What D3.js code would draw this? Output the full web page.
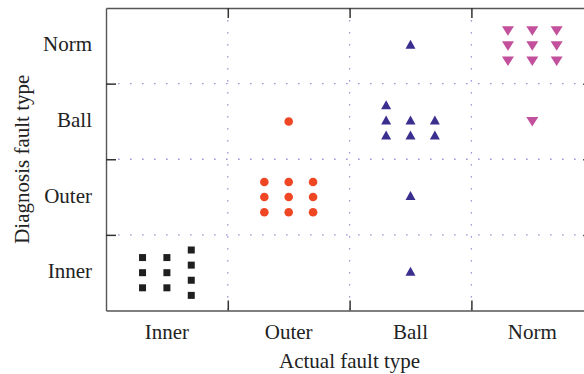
<!DOCTYPE html>
<html>
<head>
<meta charset="utf-8">
<script src="https://cdn.jsdelivr.net/npm/d3@7"></script>
<style>
  body { margin: 0; background: #fff; }
  text { font-family: "Liberation Serif", "DejaVu Serif", serif; fill: #222; }
</style>
</head>
<body>
<svg id="chart" width="584" height="374"></svg>
<script>
var categories = ["Inner", "Outer", "Ball", "Norm"];

// x = actual fault type, y = diagnosed fault type (1..4), samples spread inside each cell
var innerX = [0.8, 0.8, 0.8, 1.0, 1.0, 1.0, 1.2, 1.2, 1.2, 1.2];
var innerY = [1.2, 1.0, 0.8, 1.2, 1.0, 0.8, 1.3, 1.1, 0.9, 0.7];

var outerX = [1.8, 1.8, 1.8, 2.0, 2.0, 2.0, 2.2, 2.2, 2.2, 2.0];
var outerY = [2.2, 2.0, 1.8, 2.2, 2.0, 1.8, 2.2, 2.0, 1.8, 3.0];

var ballX = [2.8, 2.8, 2.8, 3.0, 3.0, 3.2, 3.2, 3.0, 3.0, 3.0];
var ballY = [3.2, 3.0, 2.8, 3.0, 2.8, 3.0, 2.8, 4.0, 2.0, 1.0];

var normX = [3.8, 3.8, 3.8, 4.0, 4.0, 4.0, 4.2, 4.2, 4.2, 4.0];
var normY = [4.2, 4.0, 3.8, 4.2, 4.0, 3.8, 4.2, 4.0, 3.8, 3.0];

var margin = {top: 8, left: 106};
var plotW = 487.2, plotH = 302.5;

var svg = d3.select("#chart");
var g = svg.append("g")
    .attr("transform", "translate(" + margin.left + "," + margin.top + ")");

var xScale = d3.scaleLinear().domain([0.5, 4.5]).range([0, plotW]);
var yScale = d3.scaleLinear().domain([0.5, 4.5]).range([plotH, 0]);

var divs = [1.5, 2.5, 3.5];
var gridColor = "#8480cc";

// dotted grid between the classes
g.selectAll(".vgrid").data(divs).enter().append("line")
    .attr("x1", d => xScale(d)).attr("x2", d => xScale(d))
    .attr("y1", 0).attr("y2", plotH)
    .attr("stroke", gridColor).attr("stroke-width", 1.3)
    .attr("stroke-dasharray", "1.3,10.7").attr("stroke-dashoffset", -0.2);
g.selectAll(".hgrid").data(divs).enter().append("line")
    .attr("y1", d => yScale(d)).attr("y2", d => yScale(d))
    .attr("x1", 0).attr("x2", plotW)
    .attr("stroke", gridColor).attr("stroke-width", 1.3)
    .attr("stroke-dasharray", "1.3,10.7").attr("stroke-dashoffset", -0.2);

// axes with inward ticks, labels drawn separately
var xBottom = g.append("g").attr("transform", "translate(0," + plotH + ")")
    .call(d3.axisTop(xScale).tickValues(divs).tickSizeInner(10).tickSizeOuter(0).tickFormat(""));
var xTop = g.append("g")
    .call(d3.axisBottom(xScale).tickValues(divs).tickSizeInner(10).tickSizeOuter(0).tickFormat(""));
var yLeft = g.append("g")
    .call(d3.axisRight(yScale).tickValues(divs).tickSizeInner(10).tickSizeOuter(0).tickFormat(""));
var yRight = g.append("g").attr("transform", "translate(" + plotW + ",0)")
    .call(d3.axisLeft(yScale).tickValues(divs).tickSizeInner(10).tickSizeOuter(0).tickFormat(""));
[xBottom, xTop, yLeft, yRight].forEach(a => {
    a.select(".domain").attr("stroke", "#555").attr("stroke-width", 1.4);
    a.selectAll(".tick line").attr("stroke", "#333").attr("stroke-width", 1.5);
});

// category labels
g.selectAll(".xlab").data(categories).enter().append("text")
    .attr("x", (d, i) => xScale(i + 1))
    .attr("y", plotH + 28)
    .attr("text-anchor", "middle")
    .attr("font-size", "21px")
    .text(d => d);
g.selectAll(".ylab").data(categories).enter().append("text")
    .attr("x", -14)
    .attr("y", (d, i) => yScale(i + 1) + 5.5)
    .attr("text-anchor", "end")
    .attr("font-size", "21px")
    .text(d => d);

g.append("text")
    .attr("x", plotW / 2)
    .attr("y", plotH + 57)
    .attr("text-anchor", "middle")
    .attr("font-size", "21px")
    .text("Actual fault type");
g.append("text")
    .attr("transform", "rotate(-90)")
    .attr("x", -plotH / 2)
    .attr("y", -77)
    .attr("text-anchor", "middle")
    .attr("font-size", "21px")
    .text("Diagnosis fault type");

// markers
function pts(xs, ys) { return xs.map((x, i) => ({x: x, y: ys[i]})); }

g.selectAll(".inner").data(pts(innerX, innerY)).enter().append("rect")
    .attr("x", d => xScale(d.x) - 3.5).attr("y", d => yScale(d.y) - 3.5)
    .attr("width", 7).attr("height", 7)
    .attr("fill", "#1f1f1f");

g.selectAll(".outer").data(pts(outerX, outerY)).enter().append("circle")
    .attr("cx", d => xScale(d.x)).attr("cy", d => yScale(d.y))
    .attr("r", 4.3)
    .attr("fill", "#ef4624");

g.selectAll(".ball").data(pts(ballX, ballY)).enter().append("path")
    .attr("d", "M0,-5L5,4L-5,4Z")
    .attr("transform", d => "translate(" + xScale(d.x) + "," + (yScale(d.y) - 1) + ")")
    .attr("fill", "#3a2e8f");

g.selectAll(".norm").data(pts(normX, normY)).enter().append("path")
    .attr("d", "M-6,-4.5L6,-4.5L0,5Z")
    .attr("transform", d => "translate(" + xScale(d.x) + "," + yScale(d.y) + ")")
    .attr("fill", "#c2509c");
</script>
</body>
</html>
